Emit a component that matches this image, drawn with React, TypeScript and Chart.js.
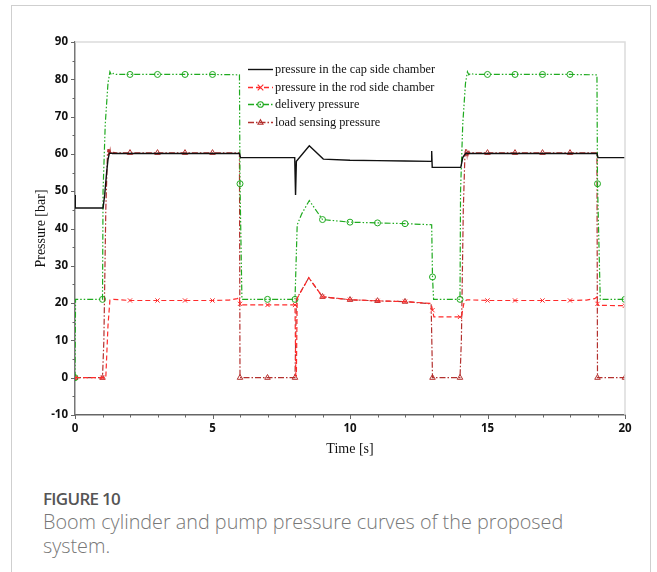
import React, { useEffect, useRef } from "react";
import { Chart, registerables } from "chart.js";

Chart.register(...registerables);

// ---------- data ----------
const seriesNames = [
  "pressure in the cap side chamber",
  "pressure in the rod side chamber",
  "delivery pressure",
  "load sensing pressure",
];

const xTickLabels = [0, 5, 10, 15, 20];
const yTickLabels = [-10, 0, 10, 20, 30, 40, 50, 60, 70, 80, 90];

const capTime = [0, 0.01, 1.02, 1.08, 1.15, 1.2, 1.25, 1.4, 2, 3, 4, 5, 5.98, 6.02, 7, 7.99, 8.02, 8.05, 8.52, 9.03, 10, 11, 12, 12.95, 12.97, 12.99, 14.03, 14.1, 14.17, 14.22, 14.27, 14.4, 15, 16, 17, 18, 18.98, 19.02, 20];
const capPressure = [49, 45.5, 45.5, 49, 55, 58.5, 60.2, 60.1, 60.1, 60.1, 60.1, 60.1, 60.1, 59.0, 59.0, 59.0, 49, 58.0, 62.2, 58.6, 58.3, 58.2, 58.1, 58.0, 60.8, 56.4, 56.4, 59, 59.8, 60.2, 60.1, 60.1, 60.1, 60.1, 60.1, 60.1, 60.1, 59.0, 59.0];

const rodTime = [0, 1, 1.12, 1.2, 1.27, 1.4, 2, 3, 4, 5, 5.6, 5.9, 5.97, 6, 6.04, 7, 8, 8.03, 8.05, 8.08, 8.5, 9, 10, 11, 12, 12.95, 13, 13.05, 14, 14.05, 14.15, 14.25, 15, 16, 17, 18, 18.6, 18.9, 18.97, 19, 19.04, 20];
const rodPressure = [0, 0, 0, 14, 20.8, 21.0, 20.7, 20.7, 20.7, 20.7, 20.8, 21.2, 21.6, 19.8, 19.5, 19.5, 19.5, 0.5, 0.5, 21.3, 26.8, 21.7, 20.9, 20.6, 20.4, 19.9, 18.1, 16.3, 16.3, 16.3, 20.3, 20.9, 20.7, 20.7, 20.7, 20.7, 20.8, 21.2, 21.6, 19.8, 19.4, 19.3];

const deliveryTime = [0, 0.02, 1, 1.02, 1.1, 1.2, 1.27, 1.32, 1.4, 1.5, 2, 3, 4, 5, 5.98, 6, 6.07, 7, 8, 8.08, 8.25, 8.52, 9, 10, 11, 12, 12.97, 13, 13.04, 14, 14.02, 14.1, 14.2, 14.27, 14.32, 14.4, 14.5, 15, 16, 17, 18, 18.98, 19, 19.1, 20];
const deliveryPressure = [0, 21, 21, 50, 68, 79, 82, 81.2, 81.6, 81.3, 81.3, 81.3, 81.3, 81.3, 81.2, 52, 21, 21, 21, 41, 44, 47.5, 42.4, 41.7, 41.5, 41.3, 41, 27, 21, 21, 50, 68, 79, 82, 81.2, 81.6, 81.3, 81.3, 81.3, 81.3, 81.3, 81.2, 52, 21, 21];

const lsTime = [0, 1, 1.05, 1.12, 1.18, 1.2, 1.22, 1.24, 1.26, 1.28, 1.3, 1.33, 1.36, 1.4, 1.5, 2, 3, 4, 5, 5.98, 6, 7, 8, 8.05, 8.5, 9, 10, 11, 12, 12.95, 13, 14, 14.05, 14.12, 14.18, 14.2, 14.22, 14.24, 14.26, 14.28, 14.3, 14.33, 14.36, 14.4, 14.5, 15, 16, 17, 18, 18.98, 19, 20];
const lsPressure = [0, 0, 10, 45, 60, 61.3, 59.5, 61.2, 59.7, 60.9, 59.9, 60.6, 60.1, 60.4, 60.3, 60.3, 60.3, 60.3, 60.3, 60.3, 0, 0, 0, 21, 26.8, 21.7, 20.9, 20.6, 20.4, 19.8, 0, 0, 10, 45, 60, 61.3, 59.5, 61.2, 59.7, 60.9, 59.9, 60.6, 60.1, 60.4, 60.3, 60.3, 60.3, 60.3, 60.3, 60.3, 0, 0];

const toPoints = (t: number[], v: number[]) => t.map((x, i) => ({ x, y: v[i] }));
const markerAtWholeSeconds = (r: number) => (c: any) =>
  c.raw && Number.isInteger(c.raw.x) ? r : 0;

// ---------- plugins ----------
const framePlugin = {
  id: "frameAndTicks",
  afterDraw(chart: any) {
    const { ctx, chartArea, scales } = chart;
    const { left, right, top, bottom } = chartArea;
    ctx.save();
    ctx.strokeStyle = "#dcdcdc";
    ctx.lineWidth = 1.5;
    ctx.beginPath();
    ctx.moveTo(left, top);
    ctx.lineTo(right, top);
    ctx.lineTo(right, bottom);
    ctx.stroke();
    ctx.strokeStyle = "#666";
    ctx.lineWidth = 1;
    const xs = scales.x;
    for (let v = 0; v <= 20; v += 1) {
      const px = Math.round(xs.getPixelForValue(v)) + 0.5;
      const len = v % 5 === 0 ? 4 : 2.5;
      ctx.beginPath();
      ctx.moveTo(px, bottom);
      ctx.lineTo(px, bottom + len);
      ctx.stroke();
    }
    const ys = scales.y;
    for (let v = -10; v <= 90; v += 5) {
      const py = Math.round(ys.getPixelForValue(v)) + 0.5;
      const len = v % 10 === 0 ? 4 : 2.5;
      ctx.beginPath();
      ctx.moveTo(left, py);
      ctx.lineTo(left - len, py);
      ctx.stroke();
    }
    ctx.restore();
  },
};

function drawMarker(ctx: CanvasRenderingContext2D, style: string, x: number, y: number, r: number) {
  ctx.beginPath();
  if (style === "crossRot") {
    ctx.moveTo(x - r, y - r);
    ctx.lineTo(x + r, y + r);
    ctx.moveTo(x + r, y - r);
    ctx.lineTo(x - r, y + r);
  } else if (style === "circle") {
    ctx.arc(x, y, r, 0, Math.PI * 2);
  } else if (style === "triangle") {
    ctx.moveTo(x, y - r);
    ctx.lineTo(x + r * 0.9, y + r * 0.6);
    ctx.lineTo(x - r * 0.9, y + r * 0.6);
    ctx.closePath();
  }
  ctx.stroke();
}

const legendPlugin = {
  id: "customLegend",
  afterDraw(chart: any) {
    const { ctx, chartArea } = chart;
    const x0 = chartArea.left + 173;
    const y0 = chartArea.top + 27;
    const rowH = 17.7;
    chart.data.datasets.forEach((ds: any, i: number) => {
      const y = Math.round(y0 + i * rowH) + 0.5;
      ctx.save();
      ctx.strokeStyle = ds.borderColor;
      ctx.lineWidth = 1.4;
      ctx.setLineDash(ds.borderDash || []);
      ctx.beginPath();
      ctx.moveTo(x0, y);
      ctx.lineTo(x0 + 25, y);
      ctx.stroke();
      ctx.setLineDash([]);
      if (ds.legendMarker) {
        ctx.lineWidth = 1.1;
        drawMarker(ctx, ds.legendMarker, x0 + 12.5, y, 2.8);
      }
      ctx.fillStyle = "#111";
      ctx.font = '12.3px "Liberation Serif", "Times New Roman", serif';
      ctx.textBaseline = "middle";
      ctx.textAlign = "left";
      ctx.fillText(ds.label, x0 + 27, y);
      ctx.restore();
    });
  },
};

// ---------- component ----------
export default function App() {
  const canvasRef = useRef<HTMLCanvasElement | null>(null);

  useEffect(() => {
    if (!canvasRef.current) return;
    const tickFont = { family: '"Open Sans", "DejaVu Sans", sans-serif', size: 11.5, weight: "bold" as const };
    const titleFont = { family: '"Liberation Serif", "Times New Roman", serif', size: 14 };
    const chart = new Chart(canvasRef.current, {
      type: "line",
      data: {
        datasets: [
          {
            label: seriesNames[0],
            data: toPoints(capTime, capPressure),
            borderColor: "#111111",
            borderWidth: 1.4,
            pointRadius: 0,
            legendMarker: null,
          } as any,
          {
            label: seriesNames[1],
            data: toPoints(rodTime, rodPressure),
            borderColor: "#ff2b2b",
            borderWidth: 1.2,
            borderDash: [5, 3],
            pointStyle: "crossRot",
            pointRadius: markerAtWholeSeconds(3),
            pointBorderColor: "#ff2b2b",
            pointBorderWidth: 1,
            legendMarker: "crossRot",
          } as any,
          {
            label: seriesNames[2],
            data: toPoints(deliveryTime, deliveryPressure),
            borderColor: "#1faa1f",
            borderWidth: 1.2,
            borderDash: [6, 2, 1.5, 2, 1.5, 2],
            pointStyle: "circle",
            pointRadius: markerAtWholeSeconds(3),
            pointBorderColor: "#1faa1f",
            pointBackgroundColor: "rgba(255,255,255,0)",
            pointBorderWidth: 1,
            legendMarker: "circle",
          } as any,
          {
            label: seriesNames[3],
            data: toPoints(lsTime, lsPressure),
            borderColor: "#b3302e",
            borderWidth: 1.2,
            borderDash: [6, 2, 1.5, 2],
            pointStyle: "triangle",
            pointRadius: markerAtWholeSeconds(3.2),
            pointBorderColor: "#b3302e",
            pointBackgroundColor: "rgba(255,255,255,0)",
            pointBorderWidth: 1,
            legendMarker: "triangle",
          } as any,
        ],
      },
      options: {
        responsive: false,
        animation: false,
        devicePixelRatio: 1,
        events: [],
        layout: { padding: { left: 20, right: 32, top: 42, bottom: 0 } },
        elements: { line: { tension: 0 } },
        plugins: {
          legend: { display: false },
          tooltip: { enabled: false },
        },
        scales: {
          x: {
            type: "linear",
            min: 0,
            max: 20,
            afterBuildTicks: (s: any) => {
              s.ticks = xTickLabels.map((v) => ({ value: v }));
            },
            afterFit: (s: any) => {
              s.height = 55;
            },
            ticks: { font: tickFont, color: "#111", padding: 7, maxRotation: 0 },
            grid: { display: false, drawTicks: false },
            border: { display: true, color: "#666", width: 1.5 },
            title: { display: true, text: "Time [s]", font: titleFont, color: "#111", padding: { top: 0, bottom: 12 } },
          },
          y: {
            type: "linear",
            min: -10,
            max: 90,
            afterBuildTicks: (s: any) => {
              s.ticks = yTickLabels.map((v) => ({ value: v }));
            },
            afterFit: (s: any) => {
              s.width = 55;
            },
            ticks: { font: tickFont, color: "#111", padding: 7 },
            grid: { display: false, drawTicks: false },
            border: { display: true, color: "#777", width: 1.5 },
            title: { display: true, text: "Pressure [bar]", font: titleFont, color: "#111", padding: { top: 13, bottom: 0 } },
          },
        },
      } as any,
      plugins: [framePlugin, legendPlugin],
    });
    return () => chart.destroy();
  }, []);

  return (
    <div style={{ position: "absolute", left: 0, top: 0, width: 657, height: 572, overflow: "hidden" }}>
      <div
        style={{
          position: "absolute",
          left: 11,
          top: 5,
          width: 640,
          height: 567,
          boxSizing: "border-box",
          border: "1px solid #cfcfcf",
          borderBottom: "none",
        }}
      />
      <canvas
        ref={canvasRef}
        width={657}
        height={470}
        style={{ position: "absolute", left: 0, top: 0, width: 657, height: 470 }}
      />
      <div
        style={{
          position: "absolute",
          left: 43,
          top: 488,
          width: 560,
          fontFamily: '"Open Sans", "Noto Sans", sans-serif',
          color: "#777",
        }}
      >
        <div style={{ fontSize: 17, fontWeight: 600, lineHeight: "22px", color: "#555", letterSpacing: -0.7 }}>FIGURE 10</div>
        <div style={{ fontSize: 19.8, fontWeight: 300, lineHeight: "24px", color: "#777" }}>
          Boom cylinder and pump pressure curves of the proposed system.
        </div>
      </div>
    </div>
  );
}
